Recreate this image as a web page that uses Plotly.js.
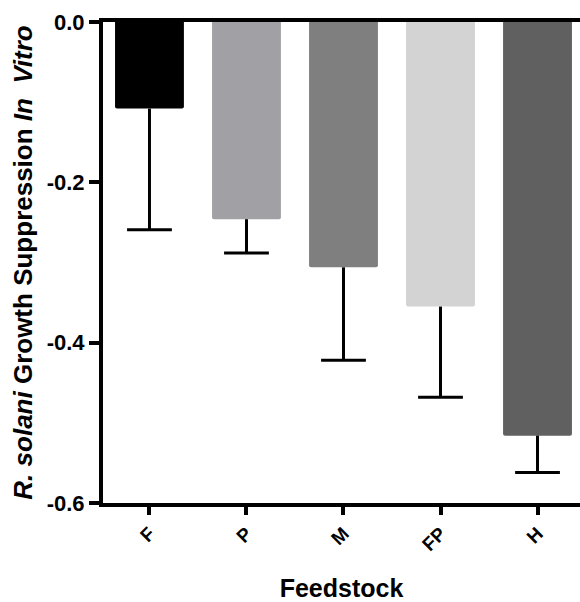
<!DOCTYPE html>
<html>
<head>
<meta charset="utf-8">
<script src="https://cdn.plot.ly/plotly-3.0.1.min.js"></script>
<style>
html,body{margin:0;padding:0;background:#fff;overflow:hidden;}
#chart{width:580px;height:602px;}
</style>
</head>
<body>
<div id="chart"></div>
<script>
const categories = ["F", "P", "M", "FP", "H"];
const means = [-0.108, -0.246, -0.306, -0.355, -0.516];
const errors = [0.151, 0.042, 0.116, 0.113, 0.046];
const barColors = ["#000000", "#a1a0a5", "#7f7f7f", "#d3d3d3", "#606060"];
const yTickVals = [0, -0.2, -0.4, -0.6];
const yTickText = ["0.0", "-0.2", "-0.4", "-0.6"];

const idx = categories.map((c, i) => i);

const ex = [], ey = [];
idx.forEach(i => { ex.push(i, i, null); ey.push(means[i], means[i] - errors[i], null); });

const traces = [
  {
    type: "bar",
    x: idx,
    y: means,
    width: 0.71,
    marker: { color: barColors, line: { width: 0 }, cornerradius: 2 },
    hoverinfo: "skip"
  },
  {
    type: "scatter",
    mode: "lines",
    x: ex,
    y: ey,
    line: { color: "#000", width: 3 },
    hoverinfo: "skip"
  },
  {
    type: "scatter",
    mode: "markers",
    x: idx,
    y: idx.map(i => means[i] - errors[i]),
    marker: { symbol: "line-ew", size: 32, line: { color: "#000", width: 3 } },
    hoverinfo: "skip"
  }
];

const FONT = "Liberation Sans, Arial, sans-serif";

const layout = {
  width: 580,
  height: 602,
  margin: { l: 103, r: 0, t: 22, b: 99, pad: 0 },
  paper_bgcolor: "#fff",
  plot_bgcolor: "#fff",
  showlegend: false,
  font: { family: FONT, color: "#000", size: 20 },
  xaxis: {
    range: [-0.479, 4.438],
    tickmode: "array",
    tickvals: idx,
    ticktext: categories.map(c => "<b>" + c + "</b>"),
    tickangle: -45,
    ticks: "outside",
    ticklen: 8,
    tickwidth: 4,
    tickcolor: "#000",
    showline: true,
    linewidth: 4,
    linecolor: "#000",
    mirror: true,
    showgrid: false,
    zeroline: false,
    tickfont: { size: 19, family: FONT, color: "#000" },
    title: { text: "<b>Feedstock</b>", font: { size: 25, family: FONT, color: "#000" }, standoff: 26 },
    automargin: false,
    fixedrange: true
  },
  yaxis: {
    range: [-0.6, 0],
    tickmode: "array",
    tickvals: yTickVals,
    ticktext: yTickText.map(t => "<b>" + t + "</b>"),
    ticks: "outside",
    ticklen: 10,
    tickwidth: 4,
    tickcolor: "#000",
    showline: true,
    linewidth: 4,
    linecolor: "#000",
    showgrid: false,
    zeroline: false,
    tickfont: { size: 22, family: FONT, color: "#000" },
    title: { text: "<b><i>R. solani</i> Growth Suppression <i>In\u00a0 Vitro</i></b>", font: { size: 26, family: FONT, color: "#000" }, standoff: 8 },
    automargin: true,
    fixedrange: true
  }
};

Plotly.newPlot("chart", traces, layout, { displayModeBar: false, staticPlot: true });
</script>
</body>
</html>
